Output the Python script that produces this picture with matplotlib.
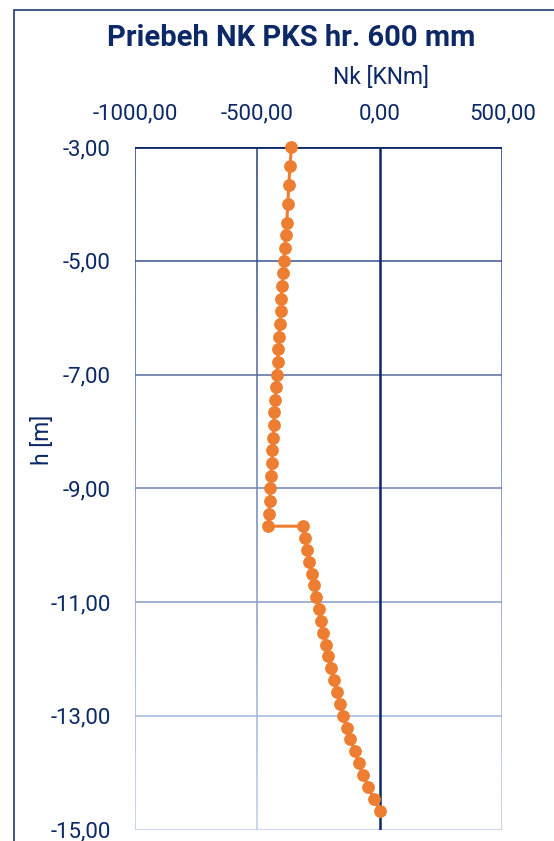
import matplotlib
matplotlib.use('Agg')
import matplotlib.pyplot as plt
import numpy as np
from matplotlib.collections import LineCollection
from matplotlib.colors import to_rgb
from matplotlib.patches import Rectangle
from matplotlib.ticker import FuncFormatter

# ---- data ----
title = "Priebeh NK PKS hr. 600 mm"
x_label = "Nk [KNm]"
y_label = "h [m]"

h_upper = [-3.000, -3.333, -3.667, -4.000, -4.333, -4.556, -4.778, -5.000, -5.222,
           -5.444, -5.667, -5.889, -6.111, -6.333, -6.556, -6.778, -7.000, -7.222,
           -7.444, -7.667, -7.889, -8.111, -8.333, -8.556, -8.778, -9.000, -9.222,
           -9.444, -9.667]
nk_upper = [-361, -367, -372, -376, -380, -384, -389, -393, -395,
            -400, -402, -405, -409, -412, -414, -418, -421, -424,
            -428, -431, -434, -436, -439, -442, -444, -447, -450,
            -453, -455]

h_lower = [-9.667, -9.875, -10.083, -10.292, -10.500, -10.708, -10.917, -11.125,
           -11.333, -11.542, -11.750, -11.958, -12.167, -12.375, -12.583, -12.792,
           -13.000, -13.208, -13.417, -13.625, -13.833, -14.042, -14.250, -14.458,
           -14.667]
nk_lower = [-314, -307, -297, -289, -279, -269, -259, -249,
            -241, -232, -221, -210, -198, -187, -175, -162,
            -150, -134, -120, -102, -87, -68, -48, -25,
            0]

x_ticks = [-1000, -500, 0, 500]
y_ticks = [-3, -5, -7, -9, -11, -13, -15]

# ---- style ----
NAVY = '#0c2866'
ORANGE = '#ed7d31'
GRID_TOP = '#1f3b7c'
GRID_BOT = '#bccdec'
FONT = 'Roboto'

W, H = 554, 841
fig = plt.figure(figsize=(W / 100, H / 100), dpi=100)
fig.patch.set_facecolor('white')

ax_l, ax_r, ax_t, ax_b = 135, 502.3, 147, 829.5
ax = fig.add_axes([ax_l / W, 1 - ax_b / H, (ax_r - ax_l) / W, (ax_b - ax_t) / H])
ax.set_xlim(x_ticks[0], x_ticks[-1])
ax.set_ylim(y_ticks[-1], y_ticks[0])
for s in ax.spines.values():
    s.set_visible(False)

c0 = np.array(to_rgb(GRID_TOP))
c1 = np.array(to_rgb(GRID_BOT))
ytop, ybot = y_ticks[0], y_ticks[-1]


def grad(y):
    t = (ytop - y) / (ytop - ybot)
    return tuple(c0 + (c1 - c0) * t)


# horizontal gridlines (gradient by depth)
for yv in y_ticks[1:]:
    ax.axhline(yv, color=grad(yv), lw=1.1, zorder=1)

# vertical gridlines with gradient along length
ys = np.linspace(ytop, ybot, 121)
for xv in x_ticks:
    if xv == 0:
        continue
    segs = [[(xv, ys[i]), (xv, ys[i + 1])] for i in range(len(ys) - 1)]
    cols = [grad((ys[i] + ys[i + 1]) / 2) for i in range(len(ys) - 1)]
    lc = LineCollection(segs, colors=cols, linewidths=1.1, zorder=1)
    lc.set_capstyle('butt')
    ax.add_collection(lc)

# axis lines
ax.axhline(ytop, color=NAVY, lw=2.0, zorder=2)
ax.axvline(0, color=NAVY, lw=1.8, zorder=2)

# data
h_all = h_upper + h_lower
nk_all = nk_upper + nk_lower
ax.plot(nk_all, h_all, color=ORANGE, lw=2.2, marker='o', markersize=9.2,
        markeredgewidth=0, zorder=5, clip_on=False)

# ticks
fmt = FuncFormatter(lambda v, p: f"{v:.2f}".replace('.', ','))
ax.xaxis.tick_top()
ax.set_xticks(x_ticks)
ax.set_yticks(y_ticks)
ax.xaxis.set_major_formatter(fmt)
ax.yaxis.set_major_formatter(fmt)
ax.tick_params(axis='x', length=0, pad=16.5, labelsize=16, labelcolor=NAVY)
ax.tick_params(axis='y', length=0, pad=17.5, labelsize=16, labelcolor=NAVY)
for lab in ax.get_xticklabels() + ax.get_yticklabels():
    lab.set_fontfamily(FONT)

# axis labels
ax.set_xlabel(x_label, fontsize=16.5, color=NAVY, family=FONT, va='center')
ax.xaxis.set_label_position('top')
ax.xaxis.set_label_coords((381 - ax_l) / (ax_r - ax_l), (ax_b - 84) / (ax_b - ax_t))
ax.set_ylabel(y_label, fontsize=16.5, color=NAVY, family=FONT, va='center')
ax.yaxis.set_label_coords((42.5 - ax_l) / (ax_r - ax_l), (ax_b - 440) / (ax_b - ax_t))

# title
fig.text(291.5 / W, 1 - 46 / H, title, ha='center', va='baseline', fontsize=21,
         fontweight='bold', family=FONT, color=NAVY)

# chart frame (cropped at right and bottom)
fig.patches.append(Rectangle((14 / W, -0.1), 1.5, 1 - 10 / H + 0.1,
                             transform=fig.transFigure, fill=False,
                             ec=NAVY, lw=1.1, zorder=0))

fig.savefig('out.png', dpi=100, facecolor='white')
